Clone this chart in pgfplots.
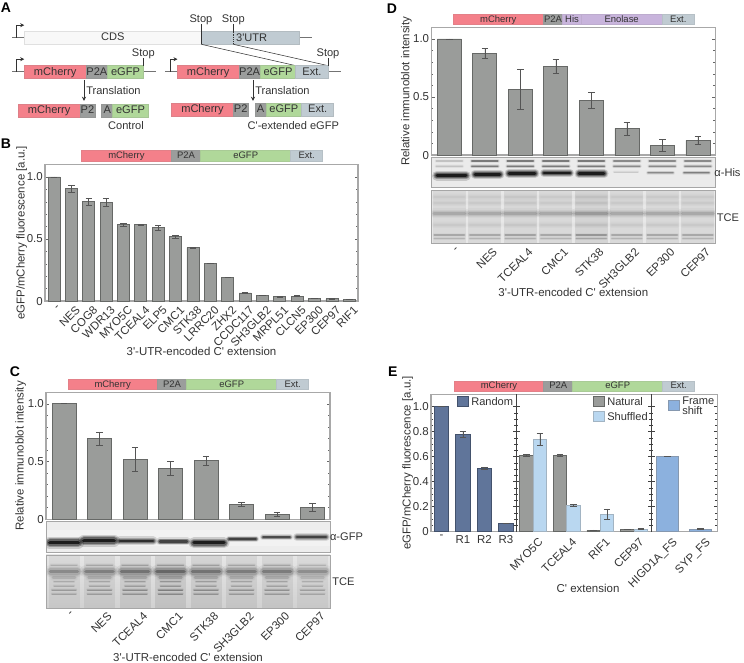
\documentclass[border=0pt]{standalone}
\usepackage{fontspec}
\setmainfont[Ligatures=TeXOff]{Liberation Sans}
\usepackage{pgfplots}
\pgfplotsset{compat=1.18}
\usetikzlibrary{arrows.meta}
\definecolor{cherry}{HTML}{F4808A}
\definecolor{ptwoa}{HTML}{9B9D9C}
\definecolor{gfp}{HTML}{B0D89A}
\definecolor{ext}{HTML}{C0CBD2}
\definecolor{enol}{HTML}{C8B4DC}
\definecolor{cdsc}{HTML}{F8F8F8}
\definecolor{txt}{HTML}{333333}
\definecolor{framec}{HTML}{A8A8A8}
\definecolor{barc}{HTML}{9A9C9A}
\definecolor{edgec}{HTML}{666866}
\definecolor{errc}{HTML}{555555}
\definecolor{randc}{HTML}{60759A}
\definecolor{shufc}{HTML}{B9D7F0}
\definecolor{fsc}{HTML}{8CB1DE}
\newcommand{\fa}{\fontsize{8.6}{10}\selectfont}
\newcommand{\fs}{\fontsize{8.3}{9.8}\selectfont}
\newcommand{\fh}{\fontsize{7.1}{8.4}\selectfont}
% header segment: x1 x2 y1 y2 colour text
\newcommand{\hseg}[6]{\draw[draw=#5!85!gray,line width=.4pt,fill=#5] (#1,#3) rectangle node[font=\fh,text=txt,inner sep=0pt,text height=5.2pt,text depth=1.4pt]{#6} (#2,#4);}
% schematic segment
\newcommand{\sseg}[6]{\draw[draw=#5!80!gray,line width=.5pt,fill=#5] (#1,#3) rectangle node[font=\fs,text=txt,inner sep=0pt,text height=6pt,text depth=1.6pt]{#6} (#2,#4);}
\newcommand{\prom}[3]{\draw[gray!90!black,line width=.9pt] (#1,#3) -- (#2,#3);}
\newcommand{\promarrow}[2]{\draw[black!80,line width=.6pt,-{Stealth[length=3pt,width=3pt]}] (#1,#2) -- (#1,#2-12.5) -- (#1+7.5,#2-12.5);}
\newcommand{\stext}[3]{\node[font=\fs,text=txt,inner sep=0pt] at (#1,#2) {#3};}
% blot band: x1 x2 y thickness(px) strength
\newcommand{\band}[5]{%
  \pgfmathsetmacro\oa{#5*0.15}\pgfmathsetmacro\ob{#5*0.25}\pgfmathsetmacro\oc{#5*0.35}\pgfmathsetmacro\od{#5*0.7}%
  \draw[black,line cap=round,line width=#4*1.5,opacity=\oa] (#1,#3) -- (#2,#3);
  \draw[black,line cap=round,line width=#4*1.1,opacity=\ob] (#1,#3) -- (#2,#3);
  \draw[black,line cap=round,line width=#4*0.8,opacity=\oc] (#1,#3) -- (#2,#3);
  \draw[black,line cap=round,line width=#4*0.45,opacity=\od] (#1,#3) -- (#2,#3);}
\pgfplotsset{
  panel/.style={
    scale only axis, ybar, ymin=0, ymax=1.1,
    axis line style={draw=framec,line width=.9pt},
    ytick pos=both, tick align=inside,
    major tick length=2.5pt, minor tick length=1.5pt,
    ytick style={draw=black!60,line width=.4pt},
    minor tick style={draw=black!60,line width=.4pt},
    xtick style={draw=none},
    tick label style={font=\fa,text=txt},
    y tick label style={inner sep=0pt,xshift=-1.5pt},
    label style={font=\fa,text=txt},
    every axis y label/.append style={at={(axis description cs:0,0.5)},anchor=center,inner sep=0pt},
    every axis x label/.append style={at={(axis description cs:0.5,0)},anchor=center,inner sep=0pt},
  },
  rotlab/.style 2 args={x tick label style={xshift=#1,yshift=#2,rotate=45,anchor=north east,inner sep=0pt}},
  barsty/.style={fill=barc,draw=edgec,line width=.6pt,bar shift=0pt,
    error bars/y dir=both,error bars/y explicit,
    error bars/error bar style={color=errc,line width=.5pt},
    error bars/error mark options={rotate=90,mark size=2.4pt,color=errc,line width=.5pt}},
}
\begin{document}
\begin{tikzpicture}
\path[use as bounding box] (0,0) rectangle (558pt,-497.25pt);
\begin{scope}[x=0.75pt,y=-0.75pt]
% letters
\foreach \x/\y/\l in {6/8/A,6/143.5/B,15/372/C,392/9/D,392.7/372/E}{\node[font=\fontsize{10.5}{12}\selectfont\bfseries,inner sep=0pt] at (\x,\y) {\l};}
% --- A: schematic
\prom{12}{24.3}{37.7}\prom{299}{312}{37.7}
\promarrow{16.7}{37.7}
\sseg{24.3}{201.3}{31.7}{44.3}{cdsc}{CDS}
\sseg{201.3}{299.3}{31.7}{44.3}{ext}{}
\node[font=\fs,text=txt,inner sep=0pt] at (251.7,37.9) {3'UTR};
\draw[txt,line width=.4pt] (201.3,24) -- (201.3,44.3);
\draw[txt,line width=.4pt] (233.3,24) -- (233.3,31.7);
\draw[txt,line width=.4pt,densely dotted] (233.3,31.7) -- (233.3,44.3);
\stext{201}{19.3}{Stop}\stext{233.3}{19.3}{Stop}
\draw[txt,line width=.4pt] (201.3,44.3) -- (296,65.7);
\draw[txt,line width=.4pt] (233.3,44.3) -- (328.3,65.7);
% row 2 left
\prom{12}{24.3}{71.7}\prom{143}{155.7}{71.7}\promarrow{16.7}{71.7}
\sseg{24.3}{86}{65.7}{78.7}{cherry}{mCherry}
\sseg{86}{107.7}{65.7}{78.7}{ptwoa}{P2A}
\sseg{107.7}{143.3}{65.7}{78.7}{gfp}{eGFP}
\draw[txt,line width=.4pt] (143.3,58.5) -- (143.3,65.7);\stext{143.3}{53.3}{Stop}
% row 2 right
\prom{165}{177.3}{71.7}\prom{328}{340.7}{71.7}\promarrow{170}{71.7}
\sseg{177.3}{239}{65.7}{78.7}{cherry}{mCherry}
\sseg{239}{260.3}{65.7}{78.7}{ptwoa}{P2A}
\sseg{260.3}{295.7}{65.7}{78.7}{gfp}{eGFP}
\sseg{295.7}{328.3}{65.7}{78.7}{ext}{Ext.}
\draw[txt,line width=.4pt] (328.3,58.5) -- (328.3,65.7);\stext{328}{53.3}{Stop}
% translation arrows
\draw[black!80,line width=.5pt,-{Stealth[length=3.2pt,width=3pt]}] (84,80) -- (84,101);
\draw[black!80,line width=.5pt,-{Stealth[length=3.2pt,width=3pt]}] (253,80) -- (253,101);
\node[font=\fs,text=txt,anchor=west,inner sep=0pt] at (86,91) {Translation};
\node[font=\fs,text=txt,anchor=west,inner sep=0pt] at (255,91) {Translation};
% row 3
\sseg{18.3}{80}{104}{117.3}{cherry}{mCherry}
\sseg{80}{95}{104}{117.3}{ptwoa}{P2}
\sseg{101.7}{112.7}{104}{117.3}{ptwoa}{A}
\sseg{112.7}{148.3}{104}{117.3}{gfp}{eGFP}
\stext{126}{125.3}{Control}
\sseg{171.7}{233.3}{103.3}{116.7}{cherry}{mCherry}
\sseg{233.3}{248}{103.3}{116.7}{ptwoa}{P2}
\sseg{255}{266}{103.3}{116.7}{ptwoa}{A}
\sseg{266}{301.7}{103.3}{116.7}{gfp}{eGFP}
\sseg{301.7}{333.7}{103.3}{116.7}{ext}{Ext.}
\stext{293.3}{125.5}{C'-extended eGFP}
% --- headers
\hseg{81.3}{171.5}{150.7}{161}{cherry}{mCherry}\hseg{171.5}{200.7}{150.7}{161}{ptwoa}{P2A}\hseg{200.7}{290.7}{150.7}{161}{gfp}{eGFP}\hseg{290.7}{322.7}{150.7}{161}{ext}{Ext.}
\hseg{68}{157.3}{379.3}{389.7}{cherry}{mCherry}\hseg{157.3}{186.7}{379.3}{389.7}{ptwoa}{P2A}\hseg{186.7}{276.7}{379.3}{389.7}{gfp}{eGFP}\hseg{276.7}{308.7}{379.3}{389.7}{ext}{Ext.}
\hseg{453.3}{543.3}{14.3}{24.7}{cherry}{mCherry}\hseg{543.3}{562.7}{14.3}{24.7}{ptwoa}{P2A}\hseg{562.7}{581.3}{14.3}{24.7}{enol}{His}\hseg{581.3}{662}{14.3}{24.7}{enol}{Enolase}\hseg{662}{694.7}{14.3}{24.7}{ext}{Ext.}
\hseg{454.3}{543.7}{381}{391.3}{cherry}{mCherry}\hseg{543.7}{572.7}{381}{391.3}{ptwoa}{P2A}\hseg{572.7}{662.7}{381}{391.3}{gfp}{eGFP}\hseg{662.7}{694.7}{381}{391.3}{ext}{Ext.}
% --- C blots
\begin{scope}
\clip (46,521.7) rectangle (330,552.3);
\fill[black!7] (46,521.7) rectangle (330,552.3);
\fill[black!5] (46,530) rectangle (330,546);
\foreach \a/\b/\y/\t/\s in {50/78/542.7/6/1,84/114/540.7/6/1,120/153/541/4.5/.85,160/187/541.5/4/.7,194/224/542.7/5.5/1,229/256/539/3/.7,263/290/537.3/3/.65,297/326/537/4/.7}{\band{\a}{\b}{\y}{\t}{\s}}
\end{scope}
\draw[black!35,line width=.7pt] (46,521.7) rectangle (330,552.3);
\begin{scope}
\clip (46,555) rectangle (330,608.3);
\shade[top color=black!10,bottom color=black!18] (46,555) rectangle (330,608.3);
\foreach \c/\f in {64/.75,99.5/.85,135/1,170.5/1.15,206/1,241.5/.9,277/.9,312.5/.7}{
  \pgfmathsetmacro\fl{\f*.07}
  \fill[black,opacity=\fl] (\c-15.5,555) rectangle (\c+15.5,608.3);
  \band{\c-13}{\c+13}{565}{1.5}{.14*\f}
  \band{\c-13.5}{\c+13.5}{571.5}{6}{.36*\f}
  \band{\c-11}{\c+11}{577.5}{3.5}{.14*\f}
  \band{\c-10}{\c+10}{581.7}{1.5}{.17*\f}
  \band{\c-10}{\c+10}{586}{1.5}{.17*\f}
  \band{\c-12}{\c+12}{590}{1.5}{.24*\f}
  \band{\c-12}{\c+12}{594}{1.5}{.2*\f}
}
\end{scope}
\draw[black!35,line width=.7pt] (46,555) rectangle (330,608.3);
\stext{346.5}{537}{α-GFP}
\stext{343.5}{581.7}{TCE}
% --- D blots
\begin{scope}
\clip (431.3,157.3) rectangle (715.3,187.3);
\fill[black!8] (431.3,157.3) rectangle (715.3,187.3);
\foreach \c/\s in {449.3/.12,484.8/.4,520.3/.4,555.8/.4,591.3/.4,626.8/.33,662.3/.33,697.8/.33}{
  \band{\c-13}{\c+13}{161}{2}{\s}
  \band{\c-13}{\c+13}{166.3}{2}{\s}
}
\foreach \a/\b/\y/\t/\s in {437/466/175.7/5/1,475/500/174.3/4.5/1,509/535/173.3/4.5/1,544/570/173/4/1,579/604/173.7/4.5/1,614/638/172/1.5/.1,648/673/172.7/2/.33,684/709/172.7/2/.38}{\band{\a}{\b}{\y}{\t}{\s}}
\end{scope}
\draw[black!35,line width=.7pt] (431.3,157.3) rectangle (715.3,187.3);
\begin{scope}
\clip (431.3,190) rectangle (715.3,243.3);
\fill[black!9] (431.3,190) rectangle (715.3,243.3);
\foreach \c/\f in {449.3/.9,484.8/.9,520.3/1,555.8/.9,591.3/1.2,626.8/.9,662.3/.9,697.8/.9}{
  \pgfmathsetmacro\fl{\f*.07}
  \fill[black,opacity=\fl] (\c-16.5,190) rectangle (\c+16.5,243.3);
  \band{\c-15}{\c+15}{197}{3.5}{.05*\f}
  \band{\c-15}{\c+15}{203}{3.5}{.05*\f}
  \band{\c-15.5}{\c+15.5}{213.3}{5}{.17*\f}
  \band{\c-15}{\c+15}{225}{3.5}{.05*\f}
  \band{\c-15}{\c+15}{235}{2}{.18*\f}
  \band{\c-15}{\c+15}{238.5}{1.5}{.14*\f}
}
\end{scope}
\draw[black!35,line width=.7pt] (431.3,190) rectangle (715.3,243.3);
\stext{727.5}{172.7}{α-His}
\stext{728}{217.3}{TCE}
\end{scope}
% --- B
\begin{axis}[panel,at={(33.75pt,-123.4pt)},anchor=north west,width=234.75pt,height=102.4pt,
  xmin=-0.52,xmax=17.5,bar width=0.69,xtick=data,
  xticklabels={\raisebox{2.1pt}{-}\hspace{2.1pt},NES,COG8,WDR13,MYO5C,TCEAL4,ELP5,CMC1,STK38,LRRC20,ZHX2,CCDC117,SH3GLB2,MRPL51,CLCN5,EP300,CEP97,RIF1},
  ytick={0,0.5,1},yticklabels={0,0.5,1.0},minor y tick num=4,
  xlabel={3'-UTR-encoded C' extension},ylabel={eGFP/mCherry fluorescence [a.u.]},
  every axis y label/.append style={yshift=17.5pt},
  every axis x label/.append style={yshift=-37.5pt},
  rotlab={2.8pt}{-3pt}]
\addplot[barsty] coordinates {(0,1) +- (0,0) (1,.905) +- (0,.025) (2,.80) +- (0,.025) (3,.795) +- (0,.035) (4,.615) +- (0,.01) (5,.615) +- (0,.005) (6,.59) +- (0,.017) (7,.52) +- (0,.012) (8,.43) +- (0,.002) (9,.305) +- (0,.003) (10,.19) +- (0,.002) (11,.065) +- (0,.002) (12,.045) +- (0,.002) (13,.035) +- (0,.002) (14,.04) +- (0,.003) (15,.022) +- (0,.002) (16,.018) +- (0,.002) (17,.015) +- (0,.002)};
\end{axis}
% --- C
\begin{axis}[panel,at={(34.5pt,-294.2pt)},anchor=north west,width=213pt,height=95.25pt,
  xmin=-0.507,xmax=7.49,bar width=0.676,xtick=data,
  xticklabels={\raisebox{4.2pt}{-}\hspace{4.2pt},NES,TCEAL4,CMC1,STK38,SH3GLB2,EP300,CEP97},
  ytick={0,0.5,1},yticklabels={0,0.5,1.0},minor y tick num=4,
  xlabel={3'-UTR-encoded C' extension},ylabel={Relative immunoblot intensity},
  every axis y label/.append style={yshift=19pt},
  every axis x label/.append style={yshift=-103.3pt},
  rotlab={5.5pt}{-69pt}]
\addplot[barsty] coordinates {(0,1) +- (0,0) (1,.70) +- (0,.057) (2,.52) +- (0,.105) (3,.44) +- (0,.061) (4,.51) +- (0,.039) (5,.13) +- (0,.018) (6,.045) +- (0,.017) (7,.104) +- (0,.035)};
\end{axis}
% --- D
\begin{axis}[panel,at={(323.5pt,-20.5pt)},anchor=north west,width=213pt,height=95.8pt,
  xmin=-0.507,xmax=7.49,bar width=0.676,xtick=data,
  xticklabels={\raisebox{4.2pt}{-}\hspace{4.2pt},NES,TCEAL4,CMC1,STK38,SH3GLB2,EP300,CEP97},
  ytick={0,0.5,1},yticklabels={0,0.5,1.0},minor y tick num=4,
  xlabel={3'-UTR-encoded C' extension},ylabel={Relative immunoblot intensity},
  every axis y label/.append style={yshift=18.75pt},
  every axis x label/.append style={yshift=-103pt},
  rotlab={5.5pt}{-69pt}]
\addplot[barsty] coordinates {(0,1) +- (0,0) (1,.876) +- (0,.045) (2,.566) +- (0,.171) (3,.764) +- (0,.06) (4,.471) +- (0,.065) (5,.23) +- (0,.056) (6,.083) +- (0,.052) (7,.126) +- (0,.035)};
\end{axis}
% --- E1
\begin{axis}[panel,at={(323.25pt,-295.7pt)},anchor=north west,width=64pt,height=103.05pt,
  xmin=-0.49,xmax=3.49,bar width=0.669,xtick=data,xticklabels={-,R1,R2,R3},
  ytick={0,0.2,0.4,0.6,0.8,1},yticklabels={0,0.2,0.4,0.6,0.8,1.0},minor y tick num=3,
  ylabel={eGFP/mCherry fluorescence [a.u.]},
  every axis y label/.append style={yshift=17.5pt},
  x tick label style={anchor=north,yshift=-2.5pt,inner sep=0pt},
  ytick style={draw=black!75,line width=.4pt},minor tick style={draw=black!75,line width=.4pt}]
\addplot[barsty,fill=randc,draw=randc!70!black] coordinates {(0,1) +- (0,0) (1,.779) +- (0,.023) (2,.507) +- (0,.008) (3,.067) +- (0,.002)};
\end{axis}
% --- E2
\begin{axis}[panel,at={(387.2pt,-295.7pt)},anchor=north west,width=101.25pt,height=103.05pt,
  xmin=-0.5,xmax=3.51,bar width=0.4,xtick={0,1,2,3},xticklabels={MYO5C,TCEAL4,RIF1,CEP97},
  ytick={0,0.2,0.4,0.6,0.8,1},yticklabels={},minor y tick num=3,
  xlabel={C' extension},
  every axis x label/.append style={yshift=-42.5pt,xshift=3.2pt},
  rotlab={3.5pt}{-4pt},
  ytick style={draw=black!75,line width=.4pt},minor tick style={draw=black!75,line width=.4pt}]
\addplot[barsty,bar shift=-0.2] coordinates {(0,.613) +- (0,.008) (1,.611) +- (0,.006) (2,.013) +- (0,.001) (3,.019) +- (0,.002)};
\addplot[barsty,bar shift=0.2,fill=shufc,draw=shufc!60!gray] coordinates {(0,.741) +- (0,.047) (1,.211) +- (0,.01) (2,.139) +- (0,.043) (3,.021) +- (0,.002)};
\end{axis}
% --- E3
\begin{axis}[panel,at={(488.5pt,-295.7pt)},anchor=north west,width=49.5pt,height=103.05pt,
  xmin=-0.49,xmax=1.51,bar width=0.677,xtick={0,1},xticklabels={HIGD1A\_FS,SYP\_FS},
  ytick={0,0.2,0.4,0.6,0.8,1},yticklabels={},minor y tick num=3,
  rotlab={3.5pt}{-4pt},
  ytick style={draw=black!75,line width=.4pt},minor tick style={draw=black!75,line width=.4pt}]
\addplot[barsty,fill=fsc,draw=fsc!50!gray] coordinates {(0,.603) +- (0,.001) (1,.021) +- (0,.002)};
\end{axis}
\begin{scope}[x=0.75pt,y=-0.75pt]
\draw[black!75,line width=.5pt] (516.3,394.3) -- (516.3,531.7);
\draw[black!75,line width=.5pt] (651.3,394.3) -- (651.3,531.7);
% legends of E
\draw[fill=randc,draw=randc!70!black,line width=.5pt] (457.3,396) rectangle (468.7,406.7);
\node[font=\fs,text=txt,anchor=west,inner sep=0pt] at (471,402) {Random};
\draw[fill=barc,draw=edgec,line width=.5pt] (593.3,396.3) rectangle (604.3,406.3);
\node[font=\fs,text=txt,anchor=west,inner sep=0pt] at (607,402) {Natural};
\draw[fill=shufc,draw=shufc!60!gray,line width=.5pt] (593.3,411) rectangle (604.3,421.3);
\node[font=\fs,text=txt,anchor=west,inner sep=0pt] at (607,416.7) {Shuffled};
\draw[fill=fsc,draw=fsc!50!gray,line width=.5pt] (668.3,400.3) rectangle (679.3,410.3);
\node[font=\fs,text=txt,anchor=west,inner sep=0pt] at (682,400.7) {Frame};
\node[font=\fs,text=txt,anchor=west,inner sep=0pt] at (682,410.3) {shift};
\end{scope}
\end{tikzpicture}
\end{document}
